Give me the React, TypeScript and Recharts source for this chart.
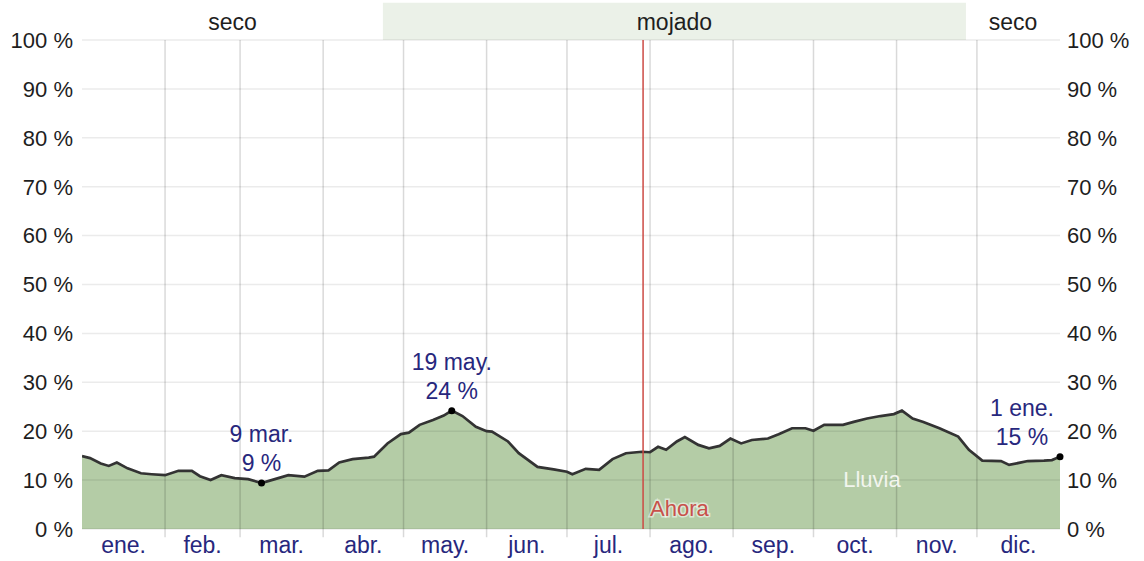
import React from 'react';
import {
  ComposedChart,
  Area,
  Line,
  XAxis,
  YAxis,
  CartesianGrid,
  ReferenceArea,
  ReferenceLine,
  ReferenceDot,
} from 'recharts';

// Day of year (0 = 1 ene.) and daily chance of rain (%)
const days = [
  0, 3, 7, 10, 13, 17, 22, 26, 31, 36, 41, 44, 48, 52, 57, 62, 67, 72, 77, 83, 88, 92,
  96, 101, 107, 109, 114, 119, 122, 126, 131, 135, 138, 142, 147, 151, 153, 159, 163, 170,
  176, 181, 183, 188, 193, 198, 203, 209, 212, 215, 218, 222, 225, 230, 234, 238, 242, 246,
  250, 256, 260, 265, 270, 273, 277, 284, 288, 293, 298, 303, 306, 310, 314, 320, 327, 331,
  336, 343, 346, 353, 359, 362, 365,
];
const rain = [
  14.9, 14.5, 13.4, 12.9, 13.6, 12.4, 11.4, 11.2, 11.0, 11.9, 11.9, 10.8, 10.0, 11.0, 10.4,
  10.2, 9.4, 10.2, 11.0, 10.7, 11.9, 12.0, 13.6, 14.3, 14.6, 14.8, 17.5, 19.4, 19.7, 21.3,
  22.3, 23.2, 24.2, 23.1, 20.9, 20.0, 19.9, 17.9, 15.5, 12.7, 12.2, 11.7, 11.2, 12.3, 12.1,
  14.3, 15.5, 15.8, 15.7, 16.8, 16.2, 17.9, 18.8, 17.2, 16.5, 17.0, 18.5, 17.5, 18.2, 18.5,
  19.4, 20.6, 20.6, 20.1, 21.3, 21.3, 21.9, 22.6, 23.1, 23.5, 24.2, 22.6, 21.9, 20.6, 18.9,
  16.2, 14.0, 13.9, 13.1, 13.9, 14.0, 14.1, 14.8,
];

const monthStarts = [31, 59, 90, 120, 151, 181, 212, 243, 273, 304, 334];
const monthMids = [15.5, 45, 74.5, 105, 135.5, 166, 196.5, 227.5, 258, 288.5, 319, 349.5];
const monthLabels = [
  'ene.', 'feb.', 'mar.', 'abr.', 'may.', 'jun.', 'jul.', 'ago.', 'sep.', 'oct.', 'nov.', 'dic.',
];
const yTicks = [0, 10, 20, 30, 40, 50, 60, 70, 80, 90, 100];

const seasonStarts = [0, 112.3, 329.9];
const seasonEnds = [112.3, 329.9, 365];
const seasonLabels = ['seco', 'mojado', 'seco'];
const seasonWet = [false, true, false];

const nowDay = 209.4;

const annDays = [67, 138, 365];
const annValues = [9.4, 24.2, 14.8];
const annDates = ['9 mar.', '19 may.', '1 ene.'];
const annPcts = ['9 %', '24 %', '15 %'];
const annShift = [0, 0, -38];

const FONT = '"Liberation Sans", Arial, sans-serif';
const NAVY = '#27277d';

const data = days.map((d, i) => ({ d, v: rain[i] }));

const makeAnnLabel = (shift: number, date: string, pct: string) => (props: any) => {
  const vb = props.viewBox || {};
  const cx = vb.x + (vb.width || 0) / 2;
  const cy = vb.y + (vb.height || 0) / 2;
  return (
    <g>
      <text x={cx + shift} y={cy - 41} textAnchor="middle" fill={NAVY} fontSize={23} fontFamily={FONT}>
        {date}
      </text>
      <text x={cx + shift} y={cy - 12} textAnchor="middle" fill={NAVY} fontSize={23} fontFamily={FONT}>
        {pct}
      </text>
    </g>
  );
};

const AhoraLabel = (props: any) => {
  const vb = props.viewBox || {};
  return (
    <text
      x={vb.x + 7}
      y={vb.y + vb.height - 13}
      fill="#c8504a"
      fontSize={22}
      fontFamily={FONT}
      stroke="#ffffff"
      strokeOpacity={0.55}
      strokeWidth={3}
      paintOrder="stroke"
    >
      Ahora
    </text>
  );
};

const LluviaLabel = (props: any) => {
  const vb = props.viewBox || {};
  const cx = vb.x + (vb.width || 0) / 2;
  const cy = vb.y + (vb.height || 0) / 2;
  return (
    <text x={cx} y={cy + 8} textAnchor="middle" fill="#f2f5ee" fontSize={22} fontFamily={FONT}>
      Lluvia
    </text>
  );
};

export default function App() {
  return (
    <div style={{ position: 'absolute', left: 0, top: 0, width: 1144, height: 561, fontFamily: FONT, background: '#fff' }}>
      <ComposedChart
        width={1144}
        height={561}
        data={data}
        margin={{ top: 40, right: 0, bottom: 0, left: 0 }}
        style={{ fontFamily: FONT }}
      >
        <XAxis
          xAxisId="lab"
          dataKey="d"
          type="number"
          domain={[0, 365]}
          ticks={monthMids}
          interval={0}
          tickFormatter={(_v: number, i: number) => monthLabels[i]}
          tick={{ fill: NAVY, fontSize: 23, fontFamily: FONT }}
          tickLine={false}
          tickSize={0}
          tickMargin={8}
          axisLine={false}
          height={32}
          allowDataOverflow
        />
        <YAxis
          yAxisId="left"
          orientation="left"
          type="number"
          domain={[0, 100]}
          ticks={yTicks}
          interval={0}
          tickFormatter={(v: number) => `${v} %`}
          tick={{ fill: '#1e1e1e', fontSize: 22, fontFamily: FONT }}
          tickLine={false}
          tickSize={0}
          tickMargin={9}
          axisLine={false}
          width={82}
          allowDataOverflow
        />
        <YAxis
          yAxisId="right"
          orientation="right"
          type="number"
          domain={[0, 100]}
          ticks={yTicks}
          interval={0}
          tickFormatter={(v: number) => `${v} %`}
          tick={{ fill: '#1e1e1e', fontSize: 22, fontFamily: FONT }}
          tickLine={false}
          tickSize={0}
          tickMargin={7}
          axisLine={false}
          width={84}
          allowDataOverflow
        />

        {seasonLabels.map((lab, i) => (
          <ReferenceArea
            key={'s' + i}
            xAxisId="lab"
            yAxisId="left"
            x1={seasonStarts[i]}
            x2={seasonEnds[i]}
            y1={100}
            y2={107.6}
            ifOverflow="visible"
            fill={seasonWet[i] ? '#ebf1e8' : 'none'}
            fillOpacity={1}
            stroke="none"
            label={{ value: lab, position: 'center', fill: '#1e1e1e', fontSize: 23, fontFamily: FONT }}
          />
        ))}

        <Area
          xAxisId="lab"
          yAxisId="left"
          dataKey="v"
          type="linear"
          fill="#b4cca6"
          fillOpacity={1}
          stroke="none"
          isAnimationActive={false}
        />

        <CartesianGrid
          xAxisId="lab"
          yAxisId="left"
          horizontal={true}
          vertical={false}
          stroke="rgba(0,0,0,0.08)"
          strokeWidth={1.5}
          zIndex={150}
        />

        {monthStarts.map((d) => (
          <ReferenceLine
            key={'m' + d}
            xAxisId="lab"
            yAxisId="left"
            segment={[
              { x: d, y: -1.7 },
              { x: d, y: 100 },
            ]}
            ifOverflow="visible"
            stroke="rgba(0,0,0,0.15)"
            strokeWidth={1.5}
          />
        ))}

        <Line
          xAxisId="lab"
          yAxisId="left"
          dataKey="v"
          type="linear"
          stroke="#333333"
          strokeWidth={2.7}
          dot={false}
          activeDot={false}
          isAnimationActive={false}
        />

        <ReferenceLine
          xAxisId="lab"
          yAxisId="left"
          x={nowDay}
          stroke="#cc4a44"
          strokeWidth={1.5}
          label={AhoraLabel}
        />

        <ReferenceDot
          xAxisId="lab"
          yAxisId="left"
          x={294.8}
          y={10.2}
          r={1}
          fill="none"
          stroke="none"
          label={LluviaLabel}
        />

        {annDays.map((d, i) => (
          <ReferenceDot
            key={'a' + i}
            xAxisId="lab"
            yAxisId="left"
            x={d}
            y={annValues[i]}
            r={3.5}
            fill="#000"
            stroke="none"
            ifOverflow="visible"
            label={makeAnnLabel(annShift[i], annDates[i], annPcts[i])}
          />
        ))}
      </ComposedChart>
    </div>
  );
}
